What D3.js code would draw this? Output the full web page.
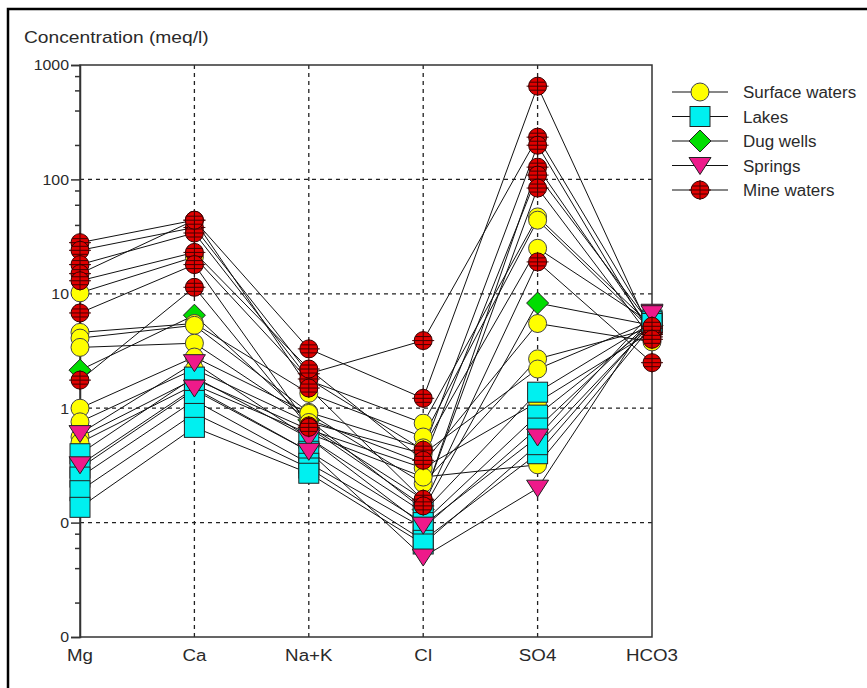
<!DOCTYPE html>
<html>
  <head>
    <meta charset="utf-8" />
    <script src="https://d3js.org/d3.v7.min.js"></script>
    <style>
      body { margin: 0; background: #fff; }
      text { font-family: "Liberation Sans", Arial, sans-serif; fill: #2a2a2a; }
      .grid { stroke: #222; stroke-width: 1.3px; stroke-dasharray: 4 4; }
      .sample { fill: none; stroke: #111; stroke-width: 1px; }
      .ytick { font-size: 15px; }
    </style>
  </head>
  <body>
    <svg id="chart" width="867" height="688"></svg>

    <script>
      // ions along the x axis
      var ions = ["Mg", "Ca", "Na+K", "Cl", "SO4", "HCO3"];

      // one row per sample: Mg, Ca, Na+K, Cl, SO4, HCO3 (meq/l)
      var surfaceWaters = [
        [10.2, 21, 1.75, 0.74, 47, 5.2],
        [4.6, 5.5, 1.35, 0.56, 44, 4.8],
        [4.1, 5.3, 0.92, 0.45, 25, 5.5],
        [3.4, 3.7, 0.8, 0.33, 5.5, 3.8],
        [1.0, 2.8, 0.9, 0.22, 2.7, 5.0],
        [0.76, 2.2, 0.75, 0.4, 2.2, 5.8],
        [0.56, 1.8, 0.65, 0.3, 1.13, 4.7],
        [0.5, 1.6, 0.6, 0.25, 0.32, 5.3]
      ];
      var lakes = [
        [0.4, 1.87, 0.55, 0.123, 1.38, 5.6],
        [0.3, 1.44, 0.42, 0.1, 0.87, 5.4],
        [0.25, 1.17, 0.33, 0.09, 0.67, 5.9],
        [0.19, 0.9, 0.3, 0.07, 0.4, 5.7],
        [0.136, 0.68, 0.27, 0.065, 0.48, 5.5]
      ];
      var dugWells = [
        [2.15, 6.5, 0.79, 0.13, 8.3, 5.3]
      ];
      var springs = [
        [0.6, 2.5, 0.55, 0.095, 0.56, 6.9],
        [0.32, 1.5, 0.42, 0.05, 0.2, 6.7]
      ];
      var mineWaters = [
        [28, 44, 3.3, 1.22, 653, 4.4],
        [24, 38, 2.0, 3.9, 234, 5.0],
        [18, 34, 1.8, 0.43, 199, 4.2],
        [15, 44, 1.5, 0.157, 128, 4.6],
        [13, 23, 2.2, 0.35, 109, 5.2],
        [6.8, 18, 0.7, 0.16, 84, 4.0],
        [1.76, 11.4, 0.68, 0.14, 19, 2.5]
      ];

      var groupNames = ["Surface waters", "Lakes", "Dug wells", "Springs", "Mine waters"];
      var yTicks = [0.01, 0.1, 1, 10, 100, 1000];
      var yTickLabels = ["0", "0", "1", "10", "100", "1000"];

      var groups = [
        { name: "Surface waters", rows: surfaceWaters, shape: "circle", color: "#ffff00" },
        { name: "Lakes", rows: lakes, shape: "square", color: "#00f0f0" },
        { name: "Dug wells", rows: dugWells, shape: "diamond", color: "#00dd00" },
        { name: "Springs", rows: springs, shape: "triangle", color: "#ee1a8a" },
        { name: "Mine waters", rows: mineWaters, shape: "cross", color: "#e00000" }
      ];

      var svg = d3.select("#chart");
      var plotLeft = 80, plotRight = 652, plotTop = 65, plotBottom = 637;

      var x = d3.scalePoint().domain(ions).range([plotLeft, plotRight]);
      var y = d3.scaleLog().domain([0.01, 1000]).range([plotBottom, plotTop]);

      // stretch text a bit wider, like the reference rendering
      function stretch(sel, k) {
        sel.each(function() {
          var w = this.getComputedTextLength();
          d3.select(this).attr("textLength", w * k).attr("lengthAdjust", "spacingAndGlyphs");
        });
      }

      // outer frame
      svg.append("rect")
        .attr("x", 8).attr("y", 9).attr("width", 880).attr("height", 700)
        .attr("fill", "none").attr("stroke", "#000").attr("stroke-width", 2.5);

      svg.append("text")
        .attr("x", 24).attr("y", 43)
        .attr("font-size", 17)
        .text("Concentration (meq/l)")
        .call(stretch, 1.13);

      // grid
      svg.selectAll(".hgrid")
        .data(yTicks.filter(function(d) { return d > 0.01 && d < 1000; }))
        .enter().append("line")
        .attr("class", "grid")
        .attr("x1", plotLeft).attr("x2", plotRight)
        .attr("y1", function(d) { return y(d); })
        .attr("y2", function(d) { return y(d); });

      svg.selectAll(".vgrid")
        .data(ions.slice(1, -1))
        .enter().append("line")
        .attr("class", "grid")
        .attr("y1", plotTop).attr("y2", plotBottom)
        .attr("x1", function(d) { return x(d); })
        .attr("x2", function(d) { return x(d); });

      // plot frame
      svg.append("rect")
        .attr("x", plotLeft).attr("y", plotTop)
        .attr("width", plotRight - plotLeft).attr("height", plotBottom - plotTop)
        .attr("fill", "none").attr("stroke", "#333").attr("stroke-width", 1.5);

      // y axis: major and minor ticks
      var minor = [];
      yTicks.slice(0, -1).forEach(function(t) {
        [2, 4, 6, 8].forEach(function(m) { minor.push(t * m); });
      });
      var yAxis = d3.axisLeft(y)
        .tickValues(yTicks)
        .tickSize(9)
        .tickFormat(function(d, i) { return yTickLabels[i]; });
      var gy = svg.append("g")
        .attr("transform", "translate(" + plotLeft + ",0)")
        .call(yAxis)
        .attr("font-size", null)
        .attr("font-family", null);
      gy.select(".domain").attr("stroke", "#333").attr("stroke-width", 1.5);
      gy.selectAll(".tick line").attr("stroke", "#333").attr("stroke-width", 1.5);
      gy.selectAll(".tick text")
        .attr("class", "ytick")
        .attr("fill", "#2a2a2a")
        .attr("x", -11)
        .call(stretch, 1.06);

      svg.append("g")
        .attr("transform", "translate(" + plotLeft + ",0)")
        .call(d3.axisLeft(y).tickValues(minor).tickSize(5).tickFormat(""))
        .call(function(g) {
          g.select(".domain").remove();
          g.selectAll("line").attr("stroke", "#333").attr("stroke-width", 1.5);
        });

      // x labels
      svg.selectAll(".xlabel")
        .data(ions)
        .enter().append("text")
        .attr("class", "xlabel")
        .attr("x", function(d) { return x(d); })
        .attr("y", 661)
        .attr("font-size", 16)
        .attr("text-anchor", "middle")
        .text(function(d) { return d; })
        .call(stretch, 1.17);

      // sample lines
      var line = d3.line()
        .x(function(d, i) { return x(ions[i]); })
        .y(function(d) { return y(d); });

      var allRows = [];
      groups.forEach(function(g) {
        g.rows.forEach(function(r) { allRows.push(r); });
      });
      svg.append("g").selectAll("path")
        .data(allRows)
        .enter().append("path")
        .attr("class", "sample")
        .attr("d", line);

      function drawMarker(sel, g) {
        if (g.shape === "circle") {
          sel.append("circle").attr("r", 9)
            .attr("fill", g.color).attr("stroke", "#444").attr("stroke-width", 1);
        } else if (g.shape === "square") {
          sel.append("rect").attr("x", -10).attr("y", -10).attr("width", 20).attr("height", 20)
            .attr("fill", g.color).attr("stroke", "#222").attr("stroke-width", 1);
        } else if (g.shape === "diamond") {
          sel.append("path").attr("d", "M0,-11L11,0L0,11L-11,0Z")
            .attr("fill", g.color).attr("stroke", "#222").attr("stroke-width", 1);
        } else if (g.shape === "triangle") {
          sel.append("path").attr("d", "M-11,-8L11,-8L0,9Z")
            .attr("fill", g.color).attr("stroke", "#222").attr("stroke-width", 1);
        } else {
          sel.append("circle").attr("r", 9)
            .attr("fill", g.color).attr("stroke", "#300").attr("stroke-width", 1);
          sel.append("path").attr("d", "M-11,0H11M0,-10V10M-8,-4H8M-8,4H8")
            .attr("stroke", "#400").attr("stroke-width", 1);
        }
      }

      // markers: drawn so that mine waters end up on top
      var markerOrder = ["Dug wells", "Surface waters", "Lakes", "Springs", "Mine waters"];
      markerOrder.forEach(function(name) {
        var g = groups.find(function(d) { return d.name === name; });
        var pts = [];
        g.rows.forEach(function(r) {
          r.forEach(function(v, i) { pts.push({ ion: ions[i], v: v }); });
        });
        var m = svg.append("g").selectAll("g")
          .data(pts)
          .enter().append("g")
          .attr("transform", function(d) { return "translate(" + x(d.ion) + "," + y(d.v) + ")"; });
        drawMarker(m, g);
      });

      // legend
      var legend = svg.append("g").selectAll("g")
        .data(groupNames)
        .enter().append("g")
        .attr("transform", function(d, i) { return "translate(700," + (92 + i * 24.5) + ")"; });
      legend.append("line")
        .attr("x1", -28).attr("x2", 28)
        .attr("stroke", "#111").attr("stroke-width", 1.2);
      legend.each(function(name) {
        var g = groups.find(function(d) { return d.name === name; });
        drawMarker(d3.select(this), g);
      });
      legend.append("text")
        .attr("x", 43).attr("y", 6)
        .attr("font-size", 16)
        .text(function(d) { return d; })
        .call(stretch, 1.06);
    </script>
  </body>
</html>
